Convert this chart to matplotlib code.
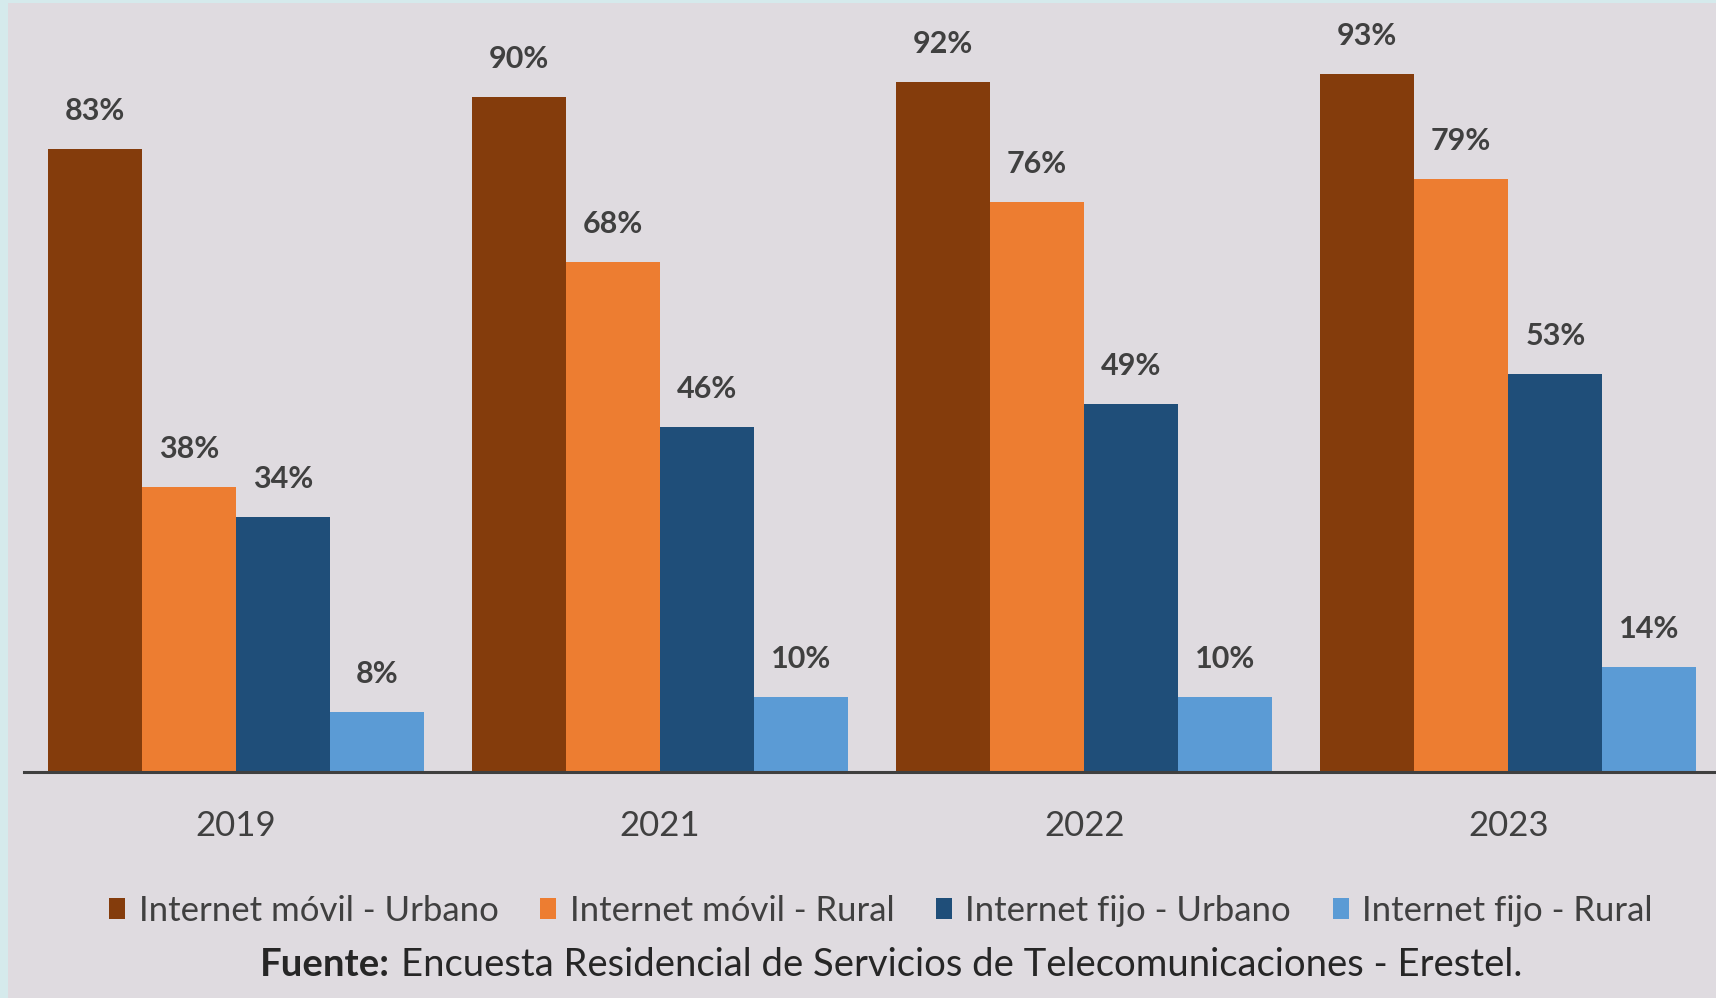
import numpy as np
import matplotlib.pyplot as plt
from matplotlib.patches import Rectangle
from matplotlib.offsetbox import TextArea, HPacker, AnchoredOffsetbox

plt.rcParams['font.family'] = ['Lato', 'DejaVu Sans']

years = ['2019', '2021', '2022', '2023']
series = ['Internet móvil - Urbano', 'Internet móvil - Rural',
          'Internet fijo - Urbano', 'Internet fijo - Rural']
movil_urbano = [83, 90, 92, 93]
movil_rural = [38, 68, 76, 79]
fijo_urbano = [34, 46, 49, 53]
fijo_rural = [8, 10, 10, 14]
values = [movil_urbano, movil_rural, fijo_urbano, fijo_rural]
colors = ['#843C0C', '#ED7D31', '#1F4E79', '#5B9BD5']

bg = '#DFDBE0'
W, H = 1716, 998

fig = plt.figure(figsize=(W / 100, H / 100), dpi=100, facecolor='#D5EAEC')
# inner panel, leaves a thin strip on the left and top
fig.patches.append(Rectangle((8 / W, 0), 1 - 8 / W, 1 - 3 / H,
                             transform=fig.transFigure, facecolor=bg,
                             edgecolor='none', zorder=-10))

ax = fig.add_axes([24 / W, 1 - 772 / H, 1 - 24 / W, (772 - 3) / H])
ax.set_facecolor('none')

x = np.arange(len(years))
w = 0.222
offsets = (np.arange(4) - 1.5) * w
for vals, off, col, name in zip(values, offsets, colors, series):
    bars = ax.bar(x + off, vals, width=w, color=col, label=name, zorder=2)
    for b, v in zip(bars, vals):
        ax.annotate(f'{v}%', (b.get_x() + b.get_width() / 2, v),
                    xytext=(0, 21), textcoords='offset points',
                    ha='center', va='baseline', fontsize=22,
                    fontweight='bold', color='#404040')

ax.set_xlim(-0.5, 3.49)
ax.set_ylim(0, 102.5)
ax.set_yticks([])
ax.set_xticks(x)
ax.set_xticklabels(years, fontsize=25, color='#404040')
ax.tick_params(axis='x', length=0, pad=27)
for s in ['top', 'right', 'left']:
    ax.spines[s].set_visible(False)
ax.spines['bottom'].set_color('#3F3F3F')
ax.spines['bottom'].set_linewidth(2.2)
ax.spines['bottom'].set_zorder(3)

handles, labels = ax.get_legend_handles_labels()
fig.legend(handles, labels, loc='center', ncol=4, frameon=False,
           bbox_to_anchor=(881 / W, 1 - 911 / H), fontsize=25,
           handlelength=0.45, handleheight=0.55, handletextpad=0.4,
           columnspacing=1.2, labelcolor='#404040')

# source line with bold prefix
src_bold = TextArea('Fuente:', textprops=dict(fontsize=27.5, fontweight='bold', color='#262626'))
src_rest = TextArea('Encuesta Residencial de Servicios de Telecomunicaciones - Erestel.',
                    textprops=dict(fontsize=27.5, color='#262626'))
box = HPacker(children=[src_bold, src_rest], align='baseline', pad=0, sep=8)
anchored = AnchoredOffsetbox(loc='center', child=box, pad=0, frameon=False,
                             bbox_to_anchor=(891 / W, 1 - 965 / H),
                             bbox_transform=fig.transFigure, borderpad=0)
fig.add_artist(anchored)

fig.savefig('out.png', dpi=100, facecolor=fig.get_facecolor())
